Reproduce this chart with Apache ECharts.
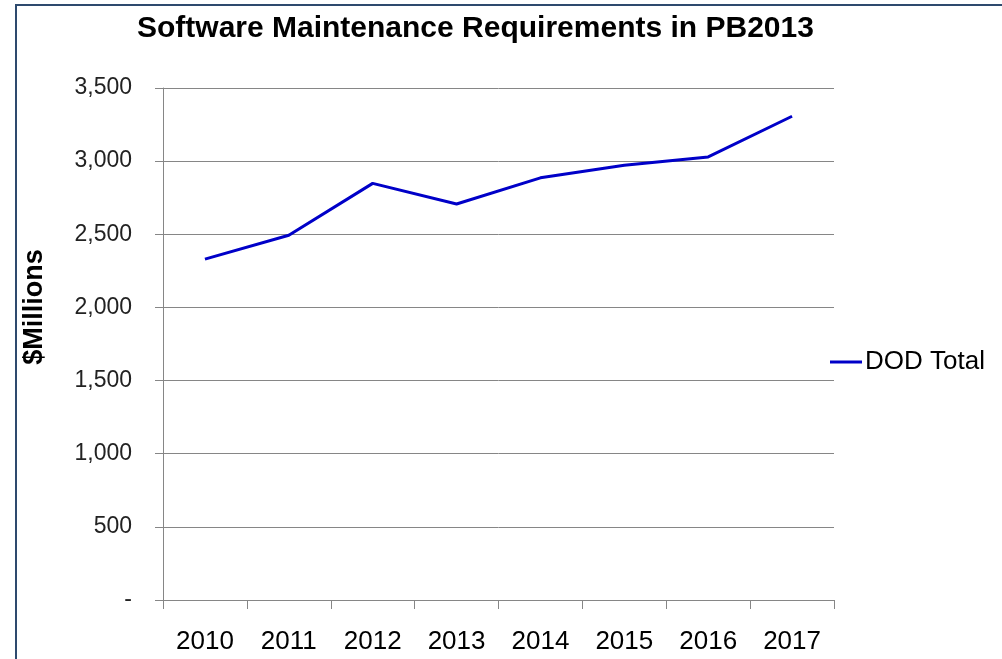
<!DOCTYPE html>
<html>
<head>
<meta charset="utf-8">
<script src="https://cdn.jsdelivr.net/npm/echarts@6/dist/echarts.min.js"></script>
<style>
  html, body { margin: 0; padding: 0; background: #fff; }
  #main { width: 1002px; height: 659px; }
</style>
</head>
<body>
<div id="main"></div>
<script>
// data
const years = ['2010', '2011', '2012', '2013', '2014', '2015', '2016', '2017'];
const dodTotal = [2330, 2493, 2848, 2707, 2886, 2972, 3029, 3307];
const yTicks = [0, 500, 1000, 1500, 2000, 2500, 3000, 3500];

const sans = "'Liberation Sans', Arial, sans-serif";
const chart = echarts.init(document.getElementById('main'));

const option = {
  backgroundColor: '#fff',
  animation: false,
  title: {
    text: 'Software Maintenance Requirements in PB2013',
    left: 137,
    top: 14,
    padding: 0,
    textStyle: {
      fontFamily: sans,
      fontWeight: 'bold',
      fontSize: 30,
      color: '#000'
    }
  },
  legend: {
    left: 830,
    top: 349,
    padding: 0,
    icon: 'rect',
    itemWidth: 32,
    itemHeight: 3,
    itemGap: 0,
    data: ['DOD Total'],
    textStyle: {
      fontFamily: sans,
      fontSize: 26,
      color: '#000',
      padding: [0, 0, 0, -2]
    }
  },
  grid: {
    left: 163,
    right: 168,
    top: 88,
    bottom: 59
  },
  xAxis: {
    type: 'category',
    data: years,
    boundaryGap: true,
    axisLine: { lineStyle: { color: '#868686', width: 1 } },
    axisTick: { show: true, length: 9, lineStyle: { color: '#868686' } },
    axisLabel: {
      interval: 0,
      margin: 29,
      fontFamily: sans,
      fontSize: 26,
      color: '#000'
    }
  },
  yAxis: {
    type: 'value',
    min: yTicks[0],
    max: yTicks[yTicks.length - 1],
    interval: 500,
    axisLine: { show: true, lineStyle: { color: '#868686', width: 1 } },
    axisTick: { show: true, length: 8, lineStyle: { color: '#868686' } },
    splitLine: { lineStyle: { color: '#868686', width: 1 } },
    axisLabel: {
      margin: 31,
      fontFamily: sans,
      fontSize: 23,
      color: '#222',
      formatter: function (v) {
        if (v === 0) return '-';
        return v.toLocaleString('en-US');
      }
    }
  },
  series: [{
    name: 'DOD Total',
    type: 'line',
    data: dodTotal,
    symbol: 'none',
    lineStyle: { color: '#0000c8', width: 3 },
    itemStyle: { color: '#0000c8' }
  }],
  graphic: [
    {
      type: 'text',
      x: 35,
      y: 307,
      rotation: Math.PI / 2,
      style: {
        text: '$Millions',
        fontFamily: sans,
        fontWeight: 'bold',
        fontSize: 27,
        fill: '#000',
        textAlign: 'center',
        textVerticalAlign: 'middle'
      }
    },
    {
      type: 'polyline',
      shape: { points: [[16, 659], [16, 5], [1002, 5]] },
      style: { stroke: '#2e4a6e', lineWidth: 2, fill: null }
    }
  ]
};

chart.setOption(option);
</script>
</body>
</html>
